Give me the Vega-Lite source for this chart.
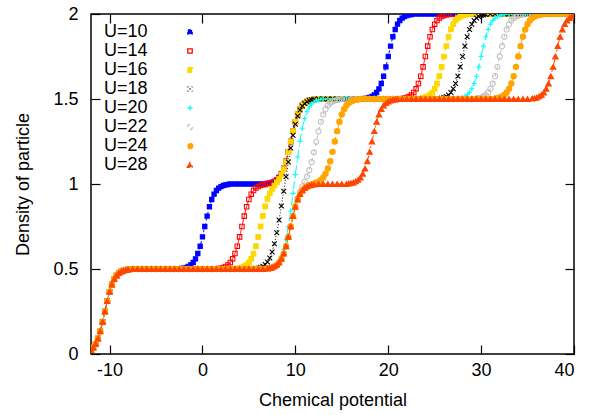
{
"$schema":"https://vega.github.io/schema/vega-lite/v6.json",
"width":483,"height":340,
"autosize":{"type":"none"},
"padding":{"left":91,"top":14,"right":22,"bottom":61},
"background":"white",
"config":{
 "font":"Liberation Sans",
 "view":{"stroke":"black","strokeWidth":1.5},
 "axis":{"grid":false,"domain":false,"zindex":1,"tickColor":"black","tickWidth":1.2,"tickSize":-9,"labelColor":"black","titleColor":"black","labelFontSize":18,"titleFontSize":18,"titleFontWeight":"normal","labelFont":"Liberation Sans","titleFont":"Liberation Sans"},
 "legend":{"labelFontSize":18,"labelColor":"black","labelFont":"Liberation Sans"}
},
"data":{"values":[
{"u":10,"x":-12,"y":0.024},{"u":10,"x":-11.75,"y":0.038},{"u":10,"x":-11.5,"y":0.06},{"u":10,"x":-11.25,"y":0.091},{"u":10,"x":-11,"y":0.134},{"u":10,"x":-10.75,"y":0.189},{"u":10,"x":-10.5,"y":0.25},{"u":10,"x":-10.25,"y":0.311},{"u":10,"x":-10,"y":0.366},{"u":10,"x":-9.75,"y":0.409},{"u":10,"x":-9.5,"y":0.44},{"u":10,"x":-9.25,"y":0.462},{"u":10,"x":-9,"y":0.476},{"u":10,"x":-8.75,"y":0.485},{"u":10,"x":-8.5,"y":0.491},{"u":10,"x":-8.25,"y":0.495},{"u":10,"x":-8,"y":0.497},
{"u":10,"x":-7.5,"y":0.5},{"u":10,"x":-7,"y":0.5},{"u":10,"x":-6.5,"y":0.5},{"u":10,"x":-6,"y":0.5},{"u":10,"x":-5.5,"y":0.5},{"u":10,"x":-5,"y":0.5},{"u":10,"x":-4.5,"y":0.5},{"u":10,"x":-4,"y":0.5},{"u":10,"x":-3.5,"y":0.5},{"u":10,"x":-3,"y":0.5},{"u":10,"x":-2.5,"y":0.5},
{"u":10,"x":-2.25,"y":0.503},{"u":10,"x":-2,"y":0.505},{"u":10,"x":-1.75,"y":0.509},{"u":10,"x":-1.5,"y":0.515},{"u":10,"x":-1.25,"y":0.524},{"u":10,"x":-1,"y":0.538},{"u":10,"x":-0.75,"y":0.56},{"u":10,"x":-0.5,"y":0.591},{"u":10,"x":-0.25,"y":0.634},{"u":10,"x":0,"y":0.689},{"u":10,"x":0.25,"y":0.75},{"u":10,"x":0.5,"y":0.811},{"u":10,"x":0.75,"y":0.866},{"u":10,"x":1,"y":0.909},{"u":10,"x":1.25,"y":0.94},{"u":10,"x":1.5,"y":0.962},{"u":10,"x":1.75,"y":0.976},{"u":10,"x":2,"y":0.985},{"u":10,"x":2.25,"y":0.991},{"u":10,"x":2.5,"y":0.995},{"u":10,"x":2.75,"y":0.997},
{"u":10,"x":3,"y":1},{"u":10,"x":3.5,"y":1},{"u":10,"x":4,"y":1},{"u":10,"x":4.5,"y":1},{"u":10,"x":5,"y":1},{"u":10,"x":5.5,"y":1},{"u":10,"x":6,"y":1},{"u":10,"x":6.5,"y":1},
{"u":10,"x":7,"y":1.003},{"u":10,"x":7.25,"y":1.005},{"u":10,"x":7.5,"y":1.009},{"u":10,"x":7.75,"y":1.015},{"u":10,"x":8,"y":1.024},{"u":10,"x":8.25,"y":1.038},{"u":10,"x":8.5,"y":1.06},{"u":10,"x":8.75,"y":1.091},{"u":10,"x":9,"y":1.134},{"u":10,"x":9.25,"y":1.189},{"u":10,"x":9.5,"y":1.25},{"u":10,"x":9.75,"y":1.311},{"u":10,"x":10,"y":1.366},{"u":10,"x":10.25,"y":1.409},{"u":10,"x":10.5,"y":1.44},{"u":10,"x":10.75,"y":1.462},{"u":10,"x":11,"y":1.476},{"u":10,"x":11.25,"y":1.485},{"u":10,"x":11.5,"y":1.491},{"u":10,"x":11.75,"y":1.495},{"u":10,"x":12,"y":1.497},
{"u":10,"x":12.5,"y":1.5},{"u":10,"x":13,"y":1.5},{"u":10,"x":13.5,"y":1.5},{"u":10,"x":14,"y":1.5},{"u":10,"x":14.5,"y":1.5},{"u":10,"x":15,"y":1.5},{"u":10,"x":15.5,"y":1.5},{"u":10,"x":16,"y":1.5},{"u":10,"x":16.5,"y":1.5},{"u":10,"x":17,"y":1.5},
{"u":10,"x":17.5,"y":1.503},{"u":10,"x":17.75,"y":1.505},{"u":10,"x":18,"y":1.509},{"u":10,"x":18.25,"y":1.515},{"u":10,"x":18.5,"y":1.524},{"u":10,"x":18.75,"y":1.538},{"u":10,"x":19,"y":1.56},{"u":10,"x":19.25,"y":1.591},{"u":10,"x":19.5,"y":1.634},{"u":10,"x":19.75,"y":1.689},{"u":10,"x":20,"y":1.75},{"u":10,"x":20.25,"y":1.811},{"u":10,"x":20.5,"y":1.866},{"u":10,"x":20.75,"y":1.909},{"u":10,"x":21,"y":1.94},{"u":10,"x":21.25,"y":1.962},{"u":10,"x":21.5,"y":1.976},{"u":10,"x":21.75,"y":1.985},{"u":10,"x":22,"y":1.991},{"u":10,"x":22.25,"y":1.995},{"u":10,"x":22.5,"y":1.997},
{"u":10,"x":23,"y":2},{"u":10,"x":23.5,"y":2},{"u":10,"x":24,"y":2},{"u":10,"x":24.5,"y":2},{"u":10,"x":25,"y":2},{"u":10,"x":25.5,"y":2},{"u":10,"x":26,"y":2},{"u":10,"x":26.5,"y":2},{"u":10,"x":27,"y":2},{"u":10,"x":27.5,"y":2},{"u":10,"x":28,"y":2},{"u":10,"x":28.5,"y":2},{"u":10,"x":29,"y":2},{"u":10,"x":29.5,"y":2},{"u":10,"x":30,"y":2},{"u":10,"x":30.5,"y":2},{"u":10,"x":31,"y":2},{"u":10,"x":31.5,"y":2},{"u":10,"x":32,"y":2},{"u":10,"x":32.5,"y":2},{"u":10,"x":33,"y":2},{"u":10,"x":33.5,"y":2},{"u":10,"x":34,"y":2},{"u":10,"x":34.5,"y":2},{"u":10,"x":35,"y":2},{"u":10,"x":35.5,"y":2},{"u":10,"x":36,"y":2},{"u":10,"x":36.5,"y":2},{"u":10,"x":37,"y":2},{"u":10,"x":37.5,"y":2},{"u":10,"x":38,"y":2},{"u":10,"x":38.5,"y":2},{"u":10,"x":39,"y":2},{"u":10,"x":39.5,"y":2},{"u":10,"x":40,"y":2},

{"u":14,"x":-12,"y":0.024},{"u":14,"x":-11.75,"y":0.038},{"u":14,"x":-11.5,"y":0.06},{"u":14,"x":-11.25,"y":0.091},{"u":14,"x":-11,"y":0.134},{"u":14,"x":-10.75,"y":0.189},{"u":14,"x":-10.5,"y":0.25},{"u":14,"x":-10.25,"y":0.311},{"u":14,"x":-10,"y":0.366},{"u":14,"x":-9.75,"y":0.409},{"u":14,"x":-9.5,"y":0.44},{"u":14,"x":-9.25,"y":0.462},{"u":14,"x":-9,"y":0.476},{"u":14,"x":-8.75,"y":0.485},{"u":14,"x":-8.5,"y":0.491},{"u":14,"x":-8.25,"y":0.495},{"u":14,"x":-8,"y":0.497},
{"u":14,"x":-7.5,"y":0.5},{"u":14,"x":-7,"y":0.5},{"u":14,"x":-6.5,"y":0.5},{"u":14,"x":-6,"y":0.5},{"u":14,"x":-5.5,"y":0.5},{"u":14,"x":-5,"y":0.5},{"u":14,"x":-4.5,"y":0.5},{"u":14,"x":-4,"y":0.5},{"u":14,"x":-3.5,"y":0.5},{"u":14,"x":-3,"y":0.5},{"u":14,"x":-2.5,"y":0.5},{"u":14,"x":-2,"y":0.5},{"u":14,"x":-1.5,"y":0.5},{"u":14,"x":-1,"y":0.5},{"u":14,"x":-0.5,"y":0.5},{"u":14,"x":0,"y":0.5},{"u":14,"x":0.5,"y":0.5},{"u":14,"x":1,"y":0.5},{"u":14,"x":1.5,"y":0.5},
{"u":14,"x":1.75,"y":0.503},{"u":14,"x":2,"y":0.505},{"u":14,"x":2.25,"y":0.509},{"u":14,"x":2.5,"y":0.515},{"u":14,"x":2.75,"y":0.524},{"u":14,"x":3,"y":0.538},{"u":14,"x":3.25,"y":0.56},{"u":14,"x":3.5,"y":0.591},{"u":14,"x":3.75,"y":0.634},{"u":14,"x":4,"y":0.689},{"u":14,"x":4.25,"y":0.75},{"u":14,"x":4.5,"y":0.811},{"u":14,"x":4.75,"y":0.866},{"u":14,"x":5,"y":0.909},{"u":14,"x":5.25,"y":0.94},{"u":14,"x":5.5,"y":0.962},{"u":14,"x":5.75,"y":0.976},{"u":14,"x":6,"y":0.985},{"u":14,"x":6.25,"y":0.991},{"u":14,"x":6.5,"y":0.995},{"u":14,"x":6.75,"y":0.997},
{"u":14,"x":7,"y":1.003},{"u":14,"x":7.25,"y":1.005},{"u":14,"x":7.5,"y":1.009},{"u":14,"x":7.75,"y":1.015},{"u":14,"x":8,"y":1.024},{"u":14,"x":8.25,"y":1.038},{"u":14,"x":8.5,"y":1.06},{"u":14,"x":8.75,"y":1.091},{"u":14,"x":9,"y":1.134},{"u":14,"x":9.25,"y":1.189},{"u":14,"x":9.5,"y":1.25},{"u":14,"x":9.75,"y":1.311},{"u":14,"x":10,"y":1.366},{"u":14,"x":10.25,"y":1.409},{"u":14,"x":10.5,"y":1.44},{"u":14,"x":10.75,"y":1.462},{"u":14,"x":11,"y":1.476},{"u":14,"x":11.25,"y":1.485},{"u":14,"x":11.5,"y":1.491},{"u":14,"x":11.75,"y":1.495},{"u":14,"x":12,"y":1.497},
{"u":14,"x":12.5,"y":1.5},{"u":14,"x":13,"y":1.5},{"u":14,"x":13.5,"y":1.5},{"u":14,"x":14,"y":1.5},{"u":14,"x":14.5,"y":1.5},{"u":14,"x":15,"y":1.5},{"u":14,"x":15.5,"y":1.5},{"u":14,"x":16,"y":1.5},{"u":14,"x":16.5,"y":1.5},{"u":14,"x":17,"y":1.5},{"u":14,"x":17.5,"y":1.5},{"u":14,"x":18,"y":1.5},{"u":14,"x":18.5,"y":1.5},{"u":14,"x":19,"y":1.5},{"u":14,"x":19.5,"y":1.5},{"u":14,"x":20,"y":1.5},{"u":14,"x":20.5,"y":1.5},{"u":14,"x":21,"y":1.5},
{"u":14,"x":21.5,"y":1.503},{"u":14,"x":21.75,"y":1.505},{"u":14,"x":22,"y":1.509},{"u":14,"x":22.25,"y":1.515},{"u":14,"x":22.5,"y":1.524},{"u":14,"x":22.75,"y":1.538},{"u":14,"x":23,"y":1.56},{"u":14,"x":23.25,"y":1.591},{"u":14,"x":23.5,"y":1.634},{"u":14,"x":23.75,"y":1.689},{"u":14,"x":24,"y":1.75},{"u":14,"x":24.25,"y":1.811},{"u":14,"x":24.5,"y":1.866},{"u":14,"x":24.75,"y":1.909},{"u":14,"x":25,"y":1.94},{"u":14,"x":25.25,"y":1.962},{"u":14,"x":25.5,"y":1.976},{"u":14,"x":25.75,"y":1.985},{"u":14,"x":26,"y":1.991},{"u":14,"x":26.25,"y":1.995},{"u":14,"x":26.5,"y":1.997},
{"u":14,"x":27,"y":2},{"u":14,"x":27.5,"y":2},{"u":14,"x":28,"y":2},{"u":14,"x":28.5,"y":2},{"u":14,"x":29,"y":2},{"u":14,"x":29.5,"y":2},{"u":14,"x":30,"y":2},{"u":14,"x":30.5,"y":2},{"u":14,"x":31,"y":2},{"u":14,"x":31.5,"y":2},{"u":14,"x":32,"y":2},{"u":14,"x":32.5,"y":2},{"u":14,"x":33,"y":2},{"u":14,"x":33.5,"y":2},{"u":14,"x":34,"y":2},{"u":14,"x":34.5,"y":2},{"u":14,"x":35,"y":2},{"u":14,"x":35.5,"y":2},{"u":14,"x":36,"y":2},{"u":14,"x":36.5,"y":2},{"u":14,"x":37,"y":2},{"u":14,"x":37.5,"y":2},{"u":14,"x":38,"y":2},{"u":14,"x":38.5,"y":2},{"u":14,"x":39,"y":2},{"u":14,"x":39.5,"y":2},{"u":14,"x":40,"y":2},

{"u":16,"x":-12,"y":0.024},{"u":16,"x":-11.75,"y":0.038},{"u":16,"x":-11.5,"y":0.06},{"u":16,"x":-11.25,"y":0.091},{"u":16,"x":-11,"y":0.134},{"u":16,"x":-10.75,"y":0.189},{"u":16,"x":-10.5,"y":0.25},{"u":16,"x":-10.25,"y":0.311},{"u":16,"x":-10,"y":0.366},{"u":16,"x":-9.75,"y":0.409},{"u":16,"x":-9.5,"y":0.44},{"u":16,"x":-9.25,"y":0.462},{"u":16,"x":-9,"y":0.476},{"u":16,"x":-8.75,"y":0.485},{"u":16,"x":-8.5,"y":0.491},{"u":16,"x":-8.25,"y":0.495},{"u":16,"x":-8,"y":0.497},
{"u":16,"x":-7.5,"y":0.5},{"u":16,"x":-7,"y":0.5},{"u":16,"x":-6.5,"y":0.5},{"u":16,"x":-6,"y":0.5},{"u":16,"x":-5.5,"y":0.5},{"u":16,"x":-5,"y":0.5},{"u":16,"x":-4.5,"y":0.5},{"u":16,"x":-4,"y":0.5},{"u":16,"x":-3.5,"y":0.5},{"u":16,"x":-3,"y":0.5},{"u":16,"x":-2.5,"y":0.5},{"u":16,"x":-2,"y":0.5},{"u":16,"x":-1.5,"y":0.5},{"u":16,"x":-1,"y":0.5},{"u":16,"x":-0.5,"y":0.5},{"u":16,"x":0,"y":0.5},{"u":16,"x":0.5,"y":0.5},{"u":16,"x":1,"y":0.5},{"u":16,"x":1.5,"y":0.5},{"u":16,"x":2,"y":0.5},{"u":16,"x":2.5,"y":0.5},{"u":16,"x":3,"y":0.5},{"u":16,"x":3.5,"y":0.5},
{"u":16,"x":3.75,"y":0.503},{"u":16,"x":4,"y":0.505},{"u":16,"x":4.25,"y":0.509},{"u":16,"x":4.5,"y":0.515},{"u":16,"x":4.75,"y":0.524},{"u":16,"x":5,"y":0.538},{"u":16,"x":5.25,"y":0.56},{"u":16,"x":5.5,"y":0.591},{"u":16,"x":5.75,"y":0.634},{"u":16,"x":6,"y":0.689},{"u":16,"x":6.25,"y":0.751},{"u":16,"x":6.5,"y":0.812},{"u":16,"x":6.75,"y":0.868},{"u":16,"x":7,"y":0.912},{"u":16,"x":7.25,"y":0.945},{"u":16,"x":7.5,"y":0.971},{"u":16,"x":7.75,"y":0.991},{"u":16,"x":8,"y":1.009},{"u":16,"x":8.25,"y":1.029},{"u":16,"x":8.5,"y":1.055},{"u":16,"x":8.75,"y":1.088},{"u":16,"x":9,"y":1.132},{"u":16,"x":9.25,"y":1.188},{"u":16,"x":9.5,"y":1.25},{"u":16,"x":9.75,"y":1.311},{"u":16,"x":10,"y":1.366},{"u":16,"x":10.25,"y":1.409},{"u":16,"x":10.5,"y":1.44},{"u":16,"x":10.75,"y":1.462},{"u":16,"x":11,"y":1.476},{"u":16,"x":11.25,"y":1.485},{"u":16,"x":11.5,"y":1.491},{"u":16,"x":11.75,"y":1.495},{"u":16,"x":12,"y":1.497},
{"u":16,"x":12.5,"y":1.5},{"u":16,"x":13,"y":1.5},{"u":16,"x":13.5,"y":1.5},{"u":16,"x":14,"y":1.5},{"u":16,"x":14.5,"y":1.5},{"u":16,"x":15,"y":1.5},{"u":16,"x":15.5,"y":1.5},{"u":16,"x":16,"y":1.5},{"u":16,"x":16.5,"y":1.5},{"u":16,"x":17,"y":1.5},{"u":16,"x":17.5,"y":1.5},{"u":16,"x":18,"y":1.5},{"u":16,"x":18.5,"y":1.5},{"u":16,"x":19,"y":1.5},{"u":16,"x":19.5,"y":1.5},{"u":16,"x":20,"y":1.5},{"u":16,"x":20.5,"y":1.5},{"u":16,"x":21,"y":1.5},{"u":16,"x":21.5,"y":1.5},{"u":16,"x":22,"y":1.5},{"u":16,"x":22.5,"y":1.5},{"u":16,"x":23,"y":1.5},
{"u":16,"x":23.5,"y":1.503},{"u":16,"x":23.75,"y":1.505},{"u":16,"x":24,"y":1.509},{"u":16,"x":24.25,"y":1.515},{"u":16,"x":24.5,"y":1.524},{"u":16,"x":24.75,"y":1.538},{"u":16,"x":25,"y":1.56},{"u":16,"x":25.25,"y":1.591},{"u":16,"x":25.5,"y":1.634},{"u":16,"x":25.75,"y":1.689},{"u":16,"x":26,"y":1.75},{"u":16,"x":26.25,"y":1.811},{"u":16,"x":26.5,"y":1.866},{"u":16,"x":26.75,"y":1.909},{"u":16,"x":27,"y":1.94},{"u":16,"x":27.25,"y":1.962},{"u":16,"x":27.5,"y":1.976},{"u":16,"x":27.75,"y":1.985},{"u":16,"x":28,"y":1.991},{"u":16,"x":28.25,"y":1.995},{"u":16,"x":28.5,"y":1.997},
{"u":16,"x":29,"y":2},{"u":16,"x":29.5,"y":2},{"u":16,"x":30,"y":2},{"u":16,"x":30.5,"y":2},{"u":16,"x":31,"y":2},{"u":16,"x":31.5,"y":2},{"u":16,"x":32,"y":2},{"u":16,"x":32.5,"y":2},{"u":16,"x":33,"y":2},{"u":16,"x":33.5,"y":2},{"u":16,"x":34,"y":2},{"u":16,"x":34.5,"y":2},{"u":16,"x":35,"y":2},{"u":16,"x":35.5,"y":2},{"u":16,"x":36,"y":2},{"u":16,"x":36.5,"y":2},{"u":16,"x":37,"y":2},{"u":16,"x":37.5,"y":2},{"u":16,"x":38,"y":2},{"u":16,"x":38.5,"y":2},{"u":16,"x":39,"y":2},{"u":16,"x":39.5,"y":2},{"u":16,"x":40,"y":2},

{"u":18,"x":-12,"y":0.024},{"u":18,"x":-11.75,"y":0.038},{"u":18,"x":-11.5,"y":0.06},{"u":18,"x":-11.25,"y":0.091},{"u":18,"x":-11,"y":0.134},{"u":18,"x":-10.75,"y":0.189},{"u":18,"x":-10.5,"y":0.25},{"u":18,"x":-10.25,"y":0.311},{"u":18,"x":-10,"y":0.366},{"u":18,"x":-9.75,"y":0.409},{"u":18,"x":-9.5,"y":0.44},{"u":18,"x":-9.25,"y":0.462},{"u":18,"x":-9,"y":0.476},{"u":18,"x":-8.75,"y":0.485},{"u":18,"x":-8.5,"y":0.491},{"u":18,"x":-8.25,"y":0.495},{"u":18,"x":-8,"y":0.497},
{"u":18,"x":-7.5,"y":0.5},{"u":18,"x":-7,"y":0.5},{"u":18,"x":-6.5,"y":0.5},{"u":18,"x":-6,"y":0.5},{"u":18,"x":-5.5,"y":0.5},{"u":18,"x":-5,"y":0.5},{"u":18,"x":-4.5,"y":0.5},{"u":18,"x":-4,"y":0.5},{"u":18,"x":-3.5,"y":0.5},{"u":18,"x":-3,"y":0.5},{"u":18,"x":-2.5,"y":0.5},{"u":18,"x":-2,"y":0.5},{"u":18,"x":-1.5,"y":0.5},{"u":18,"x":-1,"y":0.5},{"u":18,"x":-0.5,"y":0.5},{"u":18,"x":0,"y":0.5},{"u":18,"x":0.5,"y":0.5},{"u":18,"x":1,"y":0.5},{"u":18,"x":1.5,"y":0.5},{"u":18,"x":2,"y":0.5},{"u":18,"x":2.5,"y":0.5},{"u":18,"x":3,"y":0.5},{"u":18,"x":3.5,"y":0.5},{"u":18,"x":4,"y":0.5},{"u":18,"x":4.5,"y":0.5},{"u":18,"x":5,"y":0.5},{"u":18,"x":5.5,"y":0.5},
{"u":18,"x":5.75,"y":0.503},{"u":18,"x":6,"y":0.505},{"u":18,"x":6.25,"y":0.51},{"u":18,"x":6.5,"y":0.516},{"u":18,"x":6.75,"y":0.526},{"u":18,"x":7,"y":0.541},{"u":18,"x":7.25,"y":0.565},{"u":18,"x":7.5,"y":0.6},{"u":18,"x":7.75,"y":0.649},{"u":18,"x":8,"y":0.713},{"u":18,"x":8.25,"y":0.788},{"u":18,"x":8.5,"y":0.871},{"u":18,"x":8.75,"y":0.957},{"u":18,"x":9,"y":1.043},{"u":18,"x":9.25,"y":1.129},{"u":18,"x":9.5,"y":1.212},{"u":18,"x":9.75,"y":1.287},{"u":18,"x":10,"y":1.351},{"u":18,"x":10.25,"y":1.4},{"u":18,"x":10.5,"y":1.435},{"u":18,"x":10.75,"y":1.459},{"u":18,"x":11,"y":1.474},{"u":18,"x":11.25,"y":1.484},{"u":18,"x":11.5,"y":1.491},{"u":18,"x":11.75,"y":1.495},{"u":18,"x":12,"y":1.497},
{"u":18,"x":12.5,"y":1.5},{"u":18,"x":13,"y":1.5},{"u":18,"x":13.5,"y":1.5},{"u":18,"x":14,"y":1.5},{"u":18,"x":14.5,"y":1.5},{"u":18,"x":15,"y":1.5},{"u":18,"x":15.5,"y":1.5},{"u":18,"x":16,"y":1.5},{"u":18,"x":16.5,"y":1.5},{"u":18,"x":17,"y":1.5},{"u":18,"x":17.5,"y":1.5},{"u":18,"x":18,"y":1.5},{"u":18,"x":18.5,"y":1.5},{"u":18,"x":19,"y":1.5},{"u":18,"x":19.5,"y":1.5},{"u":18,"x":20,"y":1.5},{"u":18,"x":20.5,"y":1.5},{"u":18,"x":21,"y":1.5},{"u":18,"x":21.5,"y":1.5},{"u":18,"x":22,"y":1.5},{"u":18,"x":22.5,"y":1.5},{"u":18,"x":23,"y":1.5},{"u":18,"x":23.5,"y":1.5},{"u":18,"x":24,"y":1.5},{"u":18,"x":24.5,"y":1.5},{"u":18,"x":25,"y":1.5},
{"u":18,"x":25.5,"y":1.503},{"u":18,"x":25.75,"y":1.505},{"u":18,"x":26,"y":1.509},{"u":18,"x":26.25,"y":1.515},{"u":18,"x":26.5,"y":1.524},{"u":18,"x":26.75,"y":1.538},{"u":18,"x":27,"y":1.56},{"u":18,"x":27.25,"y":1.591},{"u":18,"x":27.5,"y":1.634},{"u":18,"x":27.75,"y":1.689},{"u":18,"x":28,"y":1.75},{"u":18,"x":28.25,"y":1.811},{"u":18,"x":28.5,"y":1.866},{"u":18,"x":28.75,"y":1.909},{"u":18,"x":29,"y":1.94},{"u":18,"x":29.25,"y":1.962},{"u":18,"x":29.5,"y":1.976},{"u":18,"x":29.75,"y":1.985},{"u":18,"x":30,"y":1.991},{"u":18,"x":30.25,"y":1.995},{"u":18,"x":30.5,"y":1.997},
{"u":18,"x":31,"y":2},{"u":18,"x":31.5,"y":2},{"u":18,"x":32,"y":2},{"u":18,"x":32.5,"y":2},{"u":18,"x":33,"y":2},{"u":18,"x":33.5,"y":2},{"u":18,"x":34,"y":2},{"u":18,"x":34.5,"y":2},{"u":18,"x":35,"y":2},{"u":18,"x":35.5,"y":2},{"u":18,"x":36,"y":2},{"u":18,"x":36.5,"y":2},{"u":18,"x":37,"y":2},{"u":18,"x":37.5,"y":2},{"u":18,"x":38,"y":2},{"u":18,"x":38.5,"y":2},{"u":18,"x":39,"y":2},{"u":18,"x":39.5,"y":2},{"u":18,"x":40,"y":2},

{"u":20,"x":-12,"y":0.024},{"u":20,"x":-11.75,"y":0.038},{"u":20,"x":-11.5,"y":0.06},{"u":20,"x":-11.25,"y":0.091},{"u":20,"x":-11,"y":0.134},{"u":20,"x":-10.75,"y":0.189},{"u":20,"x":-10.5,"y":0.25},{"u":20,"x":-10.25,"y":0.311},{"u":20,"x":-10,"y":0.366},{"u":20,"x":-9.75,"y":0.409},{"u":20,"x":-9.5,"y":0.44},{"u":20,"x":-9.25,"y":0.462},{"u":20,"x":-9,"y":0.476},{"u":20,"x":-8.75,"y":0.485},{"u":20,"x":-8.5,"y":0.491},{"u":20,"x":-8.25,"y":0.495},{"u":20,"x":-8,"y":0.497},
{"u":20,"x":-7.5,"y":0.5},{"u":20,"x":-7,"y":0.5},{"u":20,"x":-6.5,"y":0.5},{"u":20,"x":-6,"y":0.5},{"u":20,"x":-5.5,"y":0.5},{"u":20,"x":-5,"y":0.5},{"u":20,"x":-4.5,"y":0.5},{"u":20,"x":-4,"y":0.5},{"u":20,"x":-3.5,"y":0.5},{"u":20,"x":-3,"y":0.5},{"u":20,"x":-2.5,"y":0.5},{"u":20,"x":-2,"y":0.5},{"u":20,"x":-1.5,"y":0.5},{"u":20,"x":-1,"y":0.5},{"u":20,"x":-0.5,"y":0.5},{"u":20,"x":0,"y":0.5},{"u":20,"x":0.5,"y":0.5},{"u":20,"x":1,"y":0.5},{"u":20,"x":1.5,"y":0.5},{"u":20,"x":2,"y":0.5},{"u":20,"x":2.5,"y":0.5},{"u":20,"x":3,"y":0.5},{"u":20,"x":3.5,"y":0.5},{"u":20,"x":4,"y":0.5},{"u":20,"x":4.5,"y":0.5},{"u":20,"x":5,"y":0.5},{"u":20,"x":5.5,"y":0.5},{"u":20,"x":6,"y":0.5},{"u":20,"x":6.5,"y":0.5},
{"u":20,"x":7,"y":0.504},{"u":20,"x":7.25,"y":0.506},{"u":20,"x":7.5,"y":0.511},{"u":20,"x":7.75,"y":0.518},{"u":20,"x":8,"y":0.529},{"u":20,"x":8.25,"y":0.547},{"u":20,"x":8.5,"y":0.575},{"u":20,"x":8.75,"y":0.615},{"u":20,"x":9,"y":0.672},{"u":20,"x":9.25,"y":0.749},{"u":20,"x":9.5,"y":0.841},{"u":20,"x":9.75,"y":0.945},{"u":20,"x":10,"y":1.055},{"u":20,"x":10.25,"y":1.159},{"u":20,"x":10.5,"y":1.251},{"u":20,"x":10.75,"y":1.328},{"u":20,"x":11,"y":1.385},{"u":20,"x":11.25,"y":1.425},{"u":20,"x":11.5,"y":1.453},{"u":20,"x":11.75,"y":1.471},{"u":20,"x":12,"y":1.482},{"u":20,"x":12.25,"y":1.489},{"u":20,"x":12.5,"y":1.494},{"u":20,"x":12.75,"y":1.497},
{"u":20,"x":13,"y":1.5},{"u":20,"x":13.5,"y":1.5},{"u":20,"x":14,"y":1.5},{"u":20,"x":14.5,"y":1.5},{"u":20,"x":15,"y":1.5},{"u":20,"x":15.5,"y":1.5},{"u":20,"x":16,"y":1.5},{"u":20,"x":16.5,"y":1.5},{"u":20,"x":17,"y":1.5},{"u":20,"x":17.5,"y":1.5},{"u":20,"x":18,"y":1.5},{"u":20,"x":18.5,"y":1.5},{"u":20,"x":19,"y":1.5},{"u":20,"x":19.5,"y":1.5},{"u":20,"x":20,"y":1.5},{"u":20,"x":20.5,"y":1.5},{"u":20,"x":21,"y":1.5},{"u":20,"x":21.5,"y":1.5},{"u":20,"x":22,"y":1.5},{"u":20,"x":22.5,"y":1.5},{"u":20,"x":23,"y":1.5},{"u":20,"x":23.5,"y":1.5},{"u":20,"x":24,"y":1.5},{"u":20,"x":24.5,"y":1.5},{"u":20,"x":25,"y":1.5},{"u":20,"x":25.5,"y":1.5},{"u":20,"x":26,"y":1.5},{"u":20,"x":26.5,"y":1.5},{"u":20,"x":27,"y":1.5},
{"u":20,"x":27.5,"y":1.503},{"u":20,"x":27.75,"y":1.505},{"u":20,"x":28,"y":1.509},{"u":20,"x":28.25,"y":1.515},{"u":20,"x":28.5,"y":1.524},{"u":20,"x":28.75,"y":1.538},{"u":20,"x":29,"y":1.56},{"u":20,"x":29.25,"y":1.591},{"u":20,"x":29.5,"y":1.634},{"u":20,"x":29.75,"y":1.689},{"u":20,"x":30,"y":1.75},{"u":20,"x":30.25,"y":1.811},{"u":20,"x":30.5,"y":1.866},{"u":20,"x":30.75,"y":1.909},{"u":20,"x":31,"y":1.94},{"u":20,"x":31.25,"y":1.962},{"u":20,"x":31.5,"y":1.976},{"u":20,"x":31.75,"y":1.985},{"u":20,"x":32,"y":1.991},{"u":20,"x":32.25,"y":1.995},{"u":20,"x":32.5,"y":1.997},
{"u":20,"x":33,"y":2},{"u":20,"x":33.5,"y":2},{"u":20,"x":34,"y":2},{"u":20,"x":34.5,"y":2},{"u":20,"x":35,"y":2},{"u":20,"x":35.5,"y":2},{"u":20,"x":36,"y":2},{"u":20,"x":36.5,"y":2},{"u":20,"x":37,"y":2},{"u":20,"x":37.5,"y":2},{"u":20,"x":38,"y":2},{"u":20,"x":38.5,"y":2},{"u":20,"x":39,"y":2},{"u":20,"x":39.5,"y":2},{"u":20,"x":40,"y":2},

{"u":22,"x":-12,"y":0.024},{"u":22,"x":-11.75,"y":0.038},{"u":22,"x":-11.5,"y":0.06},{"u":22,"x":-11.25,"y":0.091},{"u":22,"x":-11,"y":0.134},{"u":22,"x":-10.75,"y":0.189},{"u":22,"x":-10.5,"y":0.25},{"u":22,"x":-10.25,"y":0.311},{"u":22,"x":-10,"y":0.366},{"u":22,"x":-9.75,"y":0.409},{"u":22,"x":-9.5,"y":0.44},{"u":22,"x":-9.25,"y":0.462},{"u":22,"x":-9,"y":0.476},{"u":22,"x":-8.75,"y":0.485},{"u":22,"x":-8.5,"y":0.491},{"u":22,"x":-8.25,"y":0.495},{"u":22,"x":-8,"y":0.497},
{"u":22,"x":-7.5,"y":0.5},{"u":22,"x":-7,"y":0.5},{"u":22,"x":-6.5,"y":0.5},{"u":22,"x":-6,"y":0.5},{"u":22,"x":-5.5,"y":0.5},{"u":22,"x":-5,"y":0.5},{"u":22,"x":-4.5,"y":0.5},{"u":22,"x":-4,"y":0.5},{"u":22,"x":-3.5,"y":0.5},{"u":22,"x":-3,"y":0.5},{"u":22,"x":-2.5,"y":0.5},{"u":22,"x":-2,"y":0.5},{"u":22,"x":-1.5,"y":0.5},{"u":22,"x":-1,"y":0.5},{"u":22,"x":-0.5,"y":0.5},{"u":22,"x":0,"y":0.5},{"u":22,"x":0.5,"y":0.5},{"u":22,"x":1,"y":0.5},{"u":22,"x":1.5,"y":0.5},{"u":22,"x":2,"y":0.5},{"u":22,"x":2.5,"y":0.5},{"u":22,"x":3,"y":0.5},{"u":22,"x":3.5,"y":0.5},{"u":22,"x":4,"y":0.5},{"u":22,"x":4.5,"y":0.5},{"u":22,"x":5,"y":0.5},{"u":22,"x":5.5,"y":0.5},{"u":22,"x":6,"y":0.5},{"u":22,"x":6.5,"y":0.5},
{"u":22,"x":7,"y":0.503},{"u":22,"x":7.25,"y":0.505},{"u":22,"x":7.5,"y":0.509},{"u":22,"x":7.75,"y":0.515},{"u":22,"x":8,"y":0.524},{"u":22,"x":8.25,"y":0.538},{"u":22,"x":8.5,"y":0.56},{"u":22,"x":8.75,"y":0.591},{"u":22,"x":9,"y":0.635},{"u":22,"x":9.25,"y":0.69},{"u":22,"x":9.5,"y":0.752},{"u":22,"x":9.75,"y":0.814},{"u":22,"x":10,"y":0.871},{"u":22,"x":10.25,"y":0.918},{"u":22,"x":10.5,"y":0.955},{"u":22,"x":10.75,"y":0.986},{"u":22,"x":11,"y":1.014},{"u":22,"x":11.25,"y":1.045},{"u":22,"x":11.5,"y":1.082},{"u":22,"x":11.75,"y":1.129},{"u":22,"x":12,"y":1.186},{"u":22,"x":12.25,"y":1.248},{"u":22,"x":12.5,"y":1.31},{"u":22,"x":12.75,"y":1.366},{"u":22,"x":13,"y":1.409},{"u":22,"x":13.25,"y":1.44},{"u":22,"x":13.5,"y":1.462},{"u":22,"x":13.75,"y":1.476},{"u":22,"x":14,"y":1.485},{"u":22,"x":14.25,"y":1.491},{"u":22,"x":14.5,"y":1.495},{"u":22,"x":14.75,"y":1.497},
{"u":22,"x":15,"y":1.5},{"u":22,"x":15.5,"y":1.5},{"u":22,"x":16,"y":1.5},{"u":22,"x":16.5,"y":1.5},{"u":22,"x":17,"y":1.5},{"u":22,"x":17.5,"y":1.5},{"u":22,"x":18,"y":1.5},{"u":22,"x":18.5,"y":1.5},{"u":22,"x":19,"y":1.5},{"u":22,"x":19.5,"y":1.5},{"u":22,"x":20,"y":1.5},{"u":22,"x":20.5,"y":1.5},{"u":22,"x":21,"y":1.5},{"u":22,"x":21.5,"y":1.5},{"u":22,"x":22,"y":1.5},{"u":22,"x":22.5,"y":1.5},{"u":22,"x":23,"y":1.5},{"u":22,"x":23.5,"y":1.5},{"u":22,"x":24,"y":1.5},{"u":22,"x":24.5,"y":1.5},{"u":22,"x":25,"y":1.5},{"u":22,"x":25.5,"y":1.5},{"u":22,"x":26,"y":1.5},{"u":22,"x":26.5,"y":1.5},{"u":22,"x":27,"y":1.5},{"u":22,"x":27.5,"y":1.5},{"u":22,"x":28,"y":1.5},{"u":22,"x":28.5,"y":1.5},{"u":22,"x":29,"y":1.5},
{"u":22,"x":29.5,"y":1.503},{"u":22,"x":29.75,"y":1.505},{"u":22,"x":30,"y":1.509},{"u":22,"x":30.25,"y":1.515},{"u":22,"x":30.5,"y":1.524},{"u":22,"x":30.75,"y":1.538},{"u":22,"x":31,"y":1.56},{"u":22,"x":31.25,"y":1.591},{"u":22,"x":31.5,"y":1.634},{"u":22,"x":31.75,"y":1.689},{"u":22,"x":32,"y":1.75},{"u":22,"x":32.25,"y":1.811},{"u":22,"x":32.5,"y":1.866},{"u":22,"x":32.75,"y":1.909},{"u":22,"x":33,"y":1.94},{"u":22,"x":33.25,"y":1.962},{"u":22,"x":33.5,"y":1.976},{"u":22,"x":33.75,"y":1.985},{"u":22,"x":34,"y":1.991},{"u":22,"x":34.25,"y":1.995},{"u":22,"x":34.5,"y":1.997},
{"u":22,"x":35,"y":2},{"u":22,"x":35.5,"y":2},{"u":22,"x":36,"y":2},{"u":22,"x":36.5,"y":2},{"u":22,"x":37,"y":2},{"u":22,"x":37.5,"y":2},{"u":22,"x":38,"y":2},{"u":22,"x":38.5,"y":2},{"u":22,"x":39,"y":2},{"u":22,"x":39.5,"y":2},{"u":22,"x":40,"y":2},

{"u":24,"x":-12,"y":0.024},{"u":24,"x":-11.75,"y":0.038},{"u":24,"x":-11.5,"y":0.06},{"u":24,"x":-11.25,"y":0.091},{"u":24,"x":-11,"y":0.134},{"u":24,"x":-10.75,"y":0.189},{"u":24,"x":-10.5,"y":0.25},{"u":24,"x":-10.25,"y":0.311},{"u":24,"x":-10,"y":0.366},{"u":24,"x":-9.75,"y":0.409},{"u":24,"x":-9.5,"y":0.44},{"u":24,"x":-9.25,"y":0.462},{"u":24,"x":-9,"y":0.476},{"u":24,"x":-8.75,"y":0.485},{"u":24,"x":-8.5,"y":0.491},{"u":24,"x":-8.25,"y":0.495},{"u":24,"x":-8,"y":0.497},
{"u":24,"x":-7.5,"y":0.5},{"u":24,"x":-7,"y":0.5},{"u":24,"x":-6.5,"y":0.5},{"u":24,"x":-6,"y":0.5},{"u":24,"x":-5.5,"y":0.5},{"u":24,"x":-5,"y":0.5},{"u":24,"x":-4.5,"y":0.5},{"u":24,"x":-4,"y":0.5},{"u":24,"x":-3.5,"y":0.5},{"u":24,"x":-3,"y":0.5},{"u":24,"x":-2.5,"y":0.5},{"u":24,"x":-2,"y":0.5},{"u":24,"x":-1.5,"y":0.5},{"u":24,"x":-1,"y":0.5},{"u":24,"x":-0.5,"y":0.5},{"u":24,"x":0,"y":0.5},{"u":24,"x":0.5,"y":0.5},{"u":24,"x":1,"y":0.5},{"u":24,"x":1.5,"y":0.5},{"u":24,"x":2,"y":0.5},{"u":24,"x":2.5,"y":0.5},{"u":24,"x":3,"y":0.5},{"u":24,"x":3.5,"y":0.5},{"u":24,"x":4,"y":0.5},{"u":24,"x":4.5,"y":0.5},{"u":24,"x":5,"y":0.5},{"u":24,"x":5.5,"y":0.5},{"u":24,"x":6,"y":0.5},{"u":24,"x":6.5,"y":0.5},
{"u":24,"x":7,"y":0.503},{"u":24,"x":7.25,"y":0.505},{"u":24,"x":7.5,"y":0.509},{"u":24,"x":7.75,"y":0.515},{"u":24,"x":8,"y":0.524},{"u":24,"x":8.25,"y":0.538},{"u":24,"x":8.5,"y":0.56},{"u":24,"x":8.75,"y":0.591},{"u":24,"x":9,"y":0.634},{"u":24,"x":9.25,"y":0.689},{"u":24,"x":9.5,"y":0.75},{"u":24,"x":9.75,"y":0.811},{"u":24,"x":10,"y":0.866},{"u":24,"x":10.25,"y":0.909},{"u":24,"x":10.5,"y":0.94},{"u":24,"x":10.75,"y":0.962},{"u":24,"x":11,"y":0.977},{"u":24,"x":11.25,"y":0.986},{"u":24,"x":11.5,"y":0.993},{"u":24,"x":11.75,"y":0.998},{"u":24,"x":12,"y":1.002},{"u":24,"x":12.25,"y":1.007},{"u":24,"x":12.5,"y":1.014},{"u":24,"x":12.75,"y":1.024},{"u":24,"x":13,"y":1.038},{"u":24,"x":13.25,"y":1.06},{"u":24,"x":13.5,"y":1.091},{"u":24,"x":13.75,"y":1.134},{"u":24,"x":14,"y":1.189},{"u":24,"x":14.25,"y":1.25},{"u":24,"x":14.5,"y":1.311},{"u":24,"x":14.75,"y":1.366},{"u":24,"x":15,"y":1.409},{"u":24,"x":15.25,"y":1.44},{"u":24,"x":15.5,"y":1.462},{"u":24,"x":15.75,"y":1.476},{"u":24,"x":16,"y":1.485},{"u":24,"x":16.25,"y":1.491},{"u":24,"x":16.5,"y":1.495},{"u":24,"x":16.75,"y":1.497},
{"u":24,"x":17,"y":1.5},{"u":24,"x":17.5,"y":1.5},{"u":24,"x":18,"y":1.5},{"u":24,"x":18.5,"y":1.5},{"u":24,"x":19,"y":1.5},{"u":24,"x":19.5,"y":1.5},{"u":24,"x":20,"y":1.5},{"u":24,"x":20.5,"y":1.5},{"u":24,"x":21,"y":1.5},{"u":24,"x":21.5,"y":1.5},{"u":24,"x":22,"y":1.5},{"u":24,"x":22.5,"y":1.5},{"u":24,"x":23,"y":1.5},{"u":24,"x":23.5,"y":1.5},{"u":24,"x":24,"y":1.5},{"u":24,"x":24.5,"y":1.5},{"u":24,"x":25,"y":1.5},{"u":24,"x":25.5,"y":1.5},{"u":24,"x":26,"y":1.5},{"u":24,"x":26.5,"y":1.5},{"u":24,"x":27,"y":1.5},{"u":24,"x":27.5,"y":1.5},{"u":24,"x":28,"y":1.5},{"u":24,"x":28.5,"y":1.5},{"u":24,"x":29,"y":1.5},{"u":24,"x":29.5,"y":1.5},{"u":24,"x":30,"y":1.5},{"u":24,"x":30.5,"y":1.5},{"u":24,"x":31,"y":1.5},
{"u":24,"x":31.5,"y":1.503},{"u":24,"x":31.75,"y":1.505},{"u":24,"x":32,"y":1.509},{"u":24,"x":32.25,"y":1.515},{"u":24,"x":32.5,"y":1.524},{"u":24,"x":32.75,"y":1.538},{"u":24,"x":33,"y":1.56},{"u":24,"x":33.25,"y":1.591},{"u":24,"x":33.5,"y":1.634},{"u":24,"x":33.75,"y":1.689},{"u":24,"x":34,"y":1.75},{"u":24,"x":34.25,"y":1.811},{"u":24,"x":34.5,"y":1.866},{"u":24,"x":34.75,"y":1.909},{"u":24,"x":35,"y":1.94},{"u":24,"x":35.25,"y":1.962},{"u":24,"x":35.5,"y":1.976},{"u":24,"x":35.75,"y":1.985},{"u":24,"x":36,"y":1.991},{"u":24,"x":36.25,"y":1.995},{"u":24,"x":36.5,"y":1.997},
{"u":24,"x":37,"y":2},{"u":24,"x":37.5,"y":2},{"u":24,"x":38,"y":2},{"u":24,"x":38.5,"y":2},{"u":24,"x":39,"y":2},{"u":24,"x":39.5,"y":2},{"u":24,"x":40,"y":2},

{"u":28,"x":-12,"y":0.024},{"u":28,"x":-11.75,"y":0.038},{"u":28,"x":-11.5,"y":0.06},{"u":28,"x":-11.25,"y":0.091},{"u":28,"x":-11,"y":0.134},{"u":28,"x":-10.75,"y":0.189},{"u":28,"x":-10.5,"y":0.25},{"u":28,"x":-10.25,"y":0.311},{"u":28,"x":-10,"y":0.366},{"u":28,"x":-9.75,"y":0.409},{"u":28,"x":-9.5,"y":0.44},{"u":28,"x":-9.25,"y":0.462},{"u":28,"x":-9,"y":0.476},{"u":28,"x":-8.75,"y":0.485},{"u":28,"x":-8.5,"y":0.491},{"u":28,"x":-8.25,"y":0.495},{"u":28,"x":-8,"y":0.497},
{"u":28,"x":-7.5,"y":0.5},{"u":28,"x":-7,"y":0.5},{"u":28,"x":-6.5,"y":0.5},{"u":28,"x":-6,"y":0.5},{"u":28,"x":-5.5,"y":0.5},{"u":28,"x":-5,"y":0.5},{"u":28,"x":-4.5,"y":0.5},{"u":28,"x":-4,"y":0.5},{"u":28,"x":-3.5,"y":0.5},{"u":28,"x":-3,"y":0.5},{"u":28,"x":-2.5,"y":0.5},{"u":28,"x":-2,"y":0.5},{"u":28,"x":-1.5,"y":0.5},{"u":28,"x":-1,"y":0.5},{"u":28,"x":-0.5,"y":0.5},{"u":28,"x":0,"y":0.5},{"u":28,"x":0.5,"y":0.5},{"u":28,"x":1,"y":0.5},{"u":28,"x":1.5,"y":0.5},{"u":28,"x":2,"y":0.5},{"u":28,"x":2.5,"y":0.5},{"u":28,"x":3,"y":0.5},{"u":28,"x":3.5,"y":0.5},{"u":28,"x":4,"y":0.5},{"u":28,"x":4.5,"y":0.5},{"u":28,"x":5,"y":0.5},{"u":28,"x":5.5,"y":0.5},{"u":28,"x":6,"y":0.5},{"u":28,"x":6.5,"y":0.5},
{"u":28,"x":7,"y":0.503},{"u":28,"x":7.25,"y":0.505},{"u":28,"x":7.5,"y":0.509},{"u":28,"x":7.75,"y":0.515},{"u":28,"x":8,"y":0.524},{"u":28,"x":8.25,"y":0.538},{"u":28,"x":8.5,"y":0.56},{"u":28,"x":8.75,"y":0.591},{"u":28,"x":9,"y":0.634},{"u":28,"x":9.25,"y":0.689},{"u":28,"x":9.5,"y":0.75},{"u":28,"x":9.75,"y":0.811},{"u":28,"x":10,"y":0.866},{"u":28,"x":10.25,"y":0.909},{"u":28,"x":10.5,"y":0.94},{"u":28,"x":10.75,"y":0.962},{"u":28,"x":11,"y":0.976},{"u":28,"x":11.25,"y":0.985},{"u":28,"x":11.5,"y":0.991},{"u":28,"x":11.75,"y":0.995},{"u":28,"x":12,"y":0.997},
{"u":28,"x":12.5,"y":1},{"u":28,"x":13,"y":1},{"u":28,"x":13.5,"y":1},{"u":28,"x":14,"y":1},{"u":28,"x":14.5,"y":1},{"u":28,"x":15,"y":1},{"u":28,"x":15.5,"y":1},
{"u":28,"x":15.75,"y":1.003},{"u":28,"x":16,"y":1.005},{"u":28,"x":16.25,"y":1.009},{"u":28,"x":16.5,"y":1.015},{"u":28,"x":16.75,"y":1.024},{"u":28,"x":17,"y":1.038},{"u":28,"x":17.25,"y":1.06},{"u":28,"x":17.5,"y":1.091},{"u":28,"x":17.75,"y":1.134},{"u":28,"x":18,"y":1.189},{"u":28,"x":18.25,"y":1.25},{"u":28,"x":18.5,"y":1.311},{"u":28,"x":18.75,"y":1.366},{"u":28,"x":19,"y":1.409},{"u":28,"x":19.25,"y":1.44},{"u":28,"x":19.5,"y":1.462},{"u":28,"x":19.75,"y":1.476},{"u":28,"x":20,"y":1.485},{"u":28,"x":20.25,"y":1.491},{"u":28,"x":20.5,"y":1.495},{"u":28,"x":20.75,"y":1.497},
{"u":28,"x":21,"y":1.5},{"u":28,"x":21.5,"y":1.5},{"u":28,"x":22,"y":1.5},{"u":28,"x":22.5,"y":1.5},{"u":28,"x":23,"y":1.5},{"u":28,"x":23.5,"y":1.5},{"u":28,"x":24,"y":1.5},{"u":28,"x":24.5,"y":1.5},{"u":28,"x":25,"y":1.5},{"u":28,"x":25.5,"y":1.5},{"u":28,"x":26,"y":1.5},{"u":28,"x":26.5,"y":1.5},{"u":28,"x":27,"y":1.5},{"u":28,"x":27.5,"y":1.5},{"u":28,"x":28,"y":1.5},{"u":28,"x":28.5,"y":1.5},{"u":28,"x":29,"y":1.5},{"u":28,"x":29.5,"y":1.5},{"u":28,"x":30,"y":1.5},{"u":28,"x":30.5,"y":1.5},{"u":28,"x":31,"y":1.5},{"u":28,"x":31.5,"y":1.5},{"u":28,"x":32,"y":1.5},{"u":28,"x":32.5,"y":1.5},{"u":28,"x":33,"y":1.5},{"u":28,"x":33.5,"y":1.5},{"u":28,"x":34,"y":1.5},{"u":28,"x":34.5,"y":1.5},{"u":28,"x":35,"y":1.5},
{"u":28,"x":35.5,"y":1.503},{"u":28,"x":35.75,"y":1.505},{"u":28,"x":36,"y":1.509},{"u":28,"x":36.25,"y":1.515},{"u":28,"x":36.5,"y":1.524},{"u":28,"x":36.75,"y":1.538},{"u":28,"x":37,"y":1.56},{"u":28,"x":37.25,"y":1.591},{"u":28,"x":37.5,"y":1.634},{"u":28,"x":37.75,"y":1.689},{"u":28,"x":38,"y":1.75},{"u":28,"x":38.25,"y":1.811},{"u":28,"x":38.5,"y":1.866},{"u":28,"x":38.75,"y":1.909},{"u":28,"x":39,"y":1.94},{"u":28,"x":39.25,"y":1.962},{"u":28,"x":39.5,"y":1.976},{"u":28,"x":39.75,"y":1.985},{"u":28,"x":40,"y":1.991}
]},
"layer":[
 {"mark":{"type":"line","strokeWidth":1,"clip":true},
  "encoding":{
   "x":{"field":"x","type":"quantitative","scale":{"domain":[-12,40],"nice":false,"zero":false},"axis":{"orient":"bottom","title":"Chemical potential","values":[-10,0,10,20,30,40],"labelExpr":"datum.value + ''","labelPadding":16,"titlePadding":12}},
   "y":{"field":"y","type":"quantitative","scale":{"domain":[0,2],"nice":false},"axis":{"orient":"left","title":"Density of particle","values":[0,0.5,1,1.5,2],"labelExpr":"datum.value + ''","labelPadding":22,"titlePadding":20}},
   "color":{"field":"u","type":"nominal","title":null,"scale":{"domain":[10,14,16,18,20,22,24,28],"range":["#0000ff","#ff0000","#ffd700","#000000","#00ffff","#c0c0c0","#ffa500","#ff4500"]},
     "legend":{"orient":"top-left","offset":9,"labelFontSize":18,"symbolSize":40,"symbolStrokeWidth":1.3,"rowPadding":1,"encode":{"labels":{"update":{"x":{"value":4},"text":{"signal":"'U=' + datum.label"}}},"symbols":{"update":{"x":{"value":90}}}}}},
   "strokeDash":{"field":"u","type":"nominal","title":null,"scale":{"domain":[10,14,16,18,20,22,24,28],"range":[[3,3],[1,0],[6,4],[1,2],[8,3,2,3],[4,4],[6,6],[8,3,2,3,2,3]]},
     "legend":{"orient":"top-left","offset":9,"labelFontSize":18,"symbolSize":40,"symbolStrokeWidth":1.3,"rowPadding":1,"encode":{"labels":{"update":{"x":{"value":4},"text":{"signal":"'U=' + datum.label"}}},"symbols":{"update":{"x":{"value":90}}}}}}
  }},
 {"mark":{"type":"point","strokeWidth":1.1,"opacity":1,"clip":true},
  "encoding":{
   "x":{"field":"x","type":"quantitative","axis":{"orient":"top","labels":false,"title":null,"values":[-10,0,10,20,30,40]}},
   "y":{"field":"y","type":"quantitative","axis":{"orient":"right","labels":false,"title":null,"values":[0,0.5,1,1.5,2]}},
   "stroke":{"field":"u","type":"nominal","scale":{"domain":[10,14,16,18,20,22,24,28],"range":["#0000ff","#ff0000","#ffd700","#000000","#00ffff","#c0c0c0","#ffa500","#ff4500"]},"legend":null},
   "fill":{"field":"u","type":"nominal","scale":{"domain":[10,14,16,18,20,22,24,28],"range":["#0000ff","transparent","#ffd700","transparent","transparent","transparent","#ffa500","#ff4500"]},"legend":null},
   "shape":{"field":"u","type":"nominal","scale":{"domain":[10,14,16,18,20,22,24,28],"range":["square","square","square","M-1,-1L1,1M-1,1L1,-1","M-1,0L1,0M0,-1L0,1","circle","circle","triangle-up"]},"legend":null},
   "size":{"field":"u","type":"nominal","scale":{"domain":[10,14,16,18,20,22,24,28],"range":[18,30,34,30,42,30,14,40]},"legend":null}
  }}
],
"resolve":{"axis":{"x":"independent","y":"independent"}}
}
